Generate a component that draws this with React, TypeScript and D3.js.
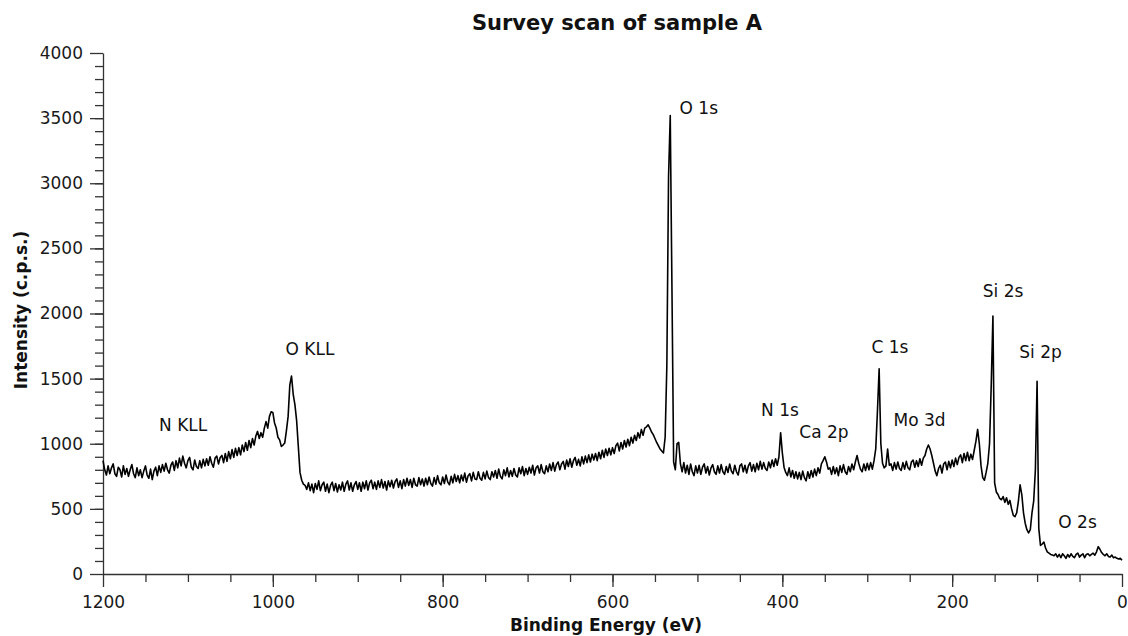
import * as d3 from 'd3';
import React, { useRef, useEffect } from 'react';

// binding energy grid of the scan: 1200 eV down to 0 eV, 2 eV per channel
const energyStart = 1200;
const energyStep = 2;

// intensity (c.p.s.), one value per channel
const intensity = [
  870, 800, 760, 830, 770, 815, 845, 770, 750, 820, // 1200
  800, 745, 830, 765, 810, 750, 800, 840, 770, 740, // 1180
  815, 755, 800, 740, 790, 830, 760, 735, 805, 725, // 1160
  790, 820, 755, 830, 780, 840, 790, 850, 800, 775, // 1140
  835, 860, 795, 870, 815, 890, 830, 905, 850, 815, // 1120
  870, 895, 820, 800, 875, 825, 810, 870, 815, 880, // 1100
  830, 885, 835, 900, 850, 820, 890, 905, 845, 895, // 1080
  910, 855, 925, 865, 940, 885, 955, 895, 965, 910, // 1060
  970, 915, 990, 940, 1010, 950, 1025, 970, 1040, 990, // 1040
  1060, 1095, 1040, 1085, 1050, 1120, 1170, 1120, 1210, 1245, // 1020
  1240, 1160, 1120, 1050, 1030, 980, 990, 1005, 1100, 1210, // 1000
  1450, 1520, 1380, 1300, 1180, 980, 780, 720, 690, 680, // 980
  650, 700, 640, 690, 625, 695, 650, 715, 640, 685, // 960
  705, 635, 690, 625, 680, 705, 640, 695, 630, 685, // 940
  645, 705, 635, 690, 715, 645, 700, 635, 685, 710, // 920
  650, 700, 635, 705, 655, 715, 645, 700, 720, 655, // 900
  705, 650, 715, 665, 725, 660, 710, 645, 715, 670, // 880
  720, 660, 710, 730, 665, 715, 655, 725, 675, 735, // 860
  680, 725, 665, 735, 685, 675, 740, 685, 730, 675, // 840
  735, 685, 745, 695, 675, 740, 690, 755, 700, 685, // 820
  745, 695, 760, 705, 685, 750, 700, 765, 710, 755, // 800
  700, 760, 715, 775, 705, 755, 770, 715, 780, 730, // 780
  725, 785, 735, 720, 780, 730, 790, 740, 725, 785, // 760
  745, 795, 735, 805, 750, 730, 800, 755, 815, 745, // 740
  795, 750, 810, 760, 745, 815, 770, 825, 755, 810, // 720
  765, 820, 775, 835, 760, 815, 830, 775, 840, 785, // 700
  770, 830, 785, 845, 795, 855, 790, 840, 860, 800, // 680
  845, 865, 805, 875, 825, 885, 820, 870, 895, 835, // 660
  880, 830, 900, 845, 905, 855, 915, 860, 920, 875, // 640
  925, 870, 935, 885, 950, 895, 960, 910, 965, 915, // 620
  970, 925, 985, 1005, 945, 1010, 960, 1025, 975, 1035, // 600
  985, 1050, 1005, 1065, 1025, 1085, 1045, 1110, 1065, 1120, // 580
  1130, 1145, 1120, 1090, 1070, 1040, 1010, 985, 960, 945, // 560
  930, 1050, 1600, 3050, 3520, 2200, 860, 800, 1000, 1010, // 540
  845, 785, 855, 775, 835, 765, 845, 785, 755, 830, // 520
  775, 835, 765, 820, 845, 775, 825, 760, 815, 840, // 500
  785, 765, 830, 775, 840, 785, 765, 825, 780, 845, // 480
  790, 770, 835, 785, 760, 830, 845, 785, 835, 775, // 460
  830, 855, 790, 840, 785, 850, 800, 865, 805, 855, // 440
  810, 795, 860, 815, 875, 825, 885, 835, 900, 1085, // 420
  930, 820, 780, 755, 815, 745, 795, 735, 785, 730, // 400
  780, 725, 790, 740, 715, 785, 735, 795, 745, 805, // 380
  755, 815, 775, 845, 870, 900, 860, 805, 815, 765, // 360
  825, 770, 815, 755, 830, 780, 840, 785, 765, 825, // 340
  785, 845, 800, 860, 910, 850, 805, 785, 845, 795, // 320
  850, 800, 855, 805, 870, 960, 1250, 1575, 1000, 850, // 300
  815, 830, 960, 835, 845, 795, 855, 805, 860, 810, // 280
  795, 855, 805, 865, 815, 800, 860, 875, 820, 870, // 260
  825, 885, 835, 890, 910, 960, 990, 960, 910, 850, // 240
  790, 755, 810, 835, 775, 845, 860, 800, 865, 815, // 220
  875, 825, 890, 840, 895, 915, 855, 925, 870, 935, // 200
  870, 920, 880, 950, 1020, 1110, 1000, 830, 740, 720, // 180
  780, 850, 1000, 1450, 1980, 700, 630, 610, 580, 570, // 160
  595, 550, 585, 535, 565, 500, 450, 440, 470, 560, // 140
  685, 610, 470, 390, 340, 315, 340, 470, 560, 800, // 120
  1480, 350, 220, 230, 245, 200, 170, 160, 150, 145, // 100
  140, 155, 130, 150, 125, 155, 140, 120, 150, 130, // 80
  155, 135, 125, 150, 160, 130, 145, 155, 125, 150, // 60
  155, 140, 150, 160, 145, 170, 210, 190, 165, 150, // 40
  140, 155, 135, 130, 145, 125, 130, 120, 115, 120, // 20
  105, // 0
];

// peak annotations: name, and where the text sits (eV, c.p.s.)
const peakNames = ['N KLL', 'O KLL', 'O 1s', 'N 1s', 'Ca 2p', 'C 1s', 'Mo 3d', 'Si 2s', 'Si 2p', 'O 2s'];
const peakLabelEnergy = [1134, 985, 521, 425, 380, 295, 269, 164, 121, 75];
const peakLabelIntensity = [1100, 1685, 3530, 1210, 1045, 1700, 1140, 2130, 1660, 355];

const xTicks = [1200, 1000, 800, 600, 400, 200, 0];
const yTicks = [0, 500, 1000, 1500, 2000, 2500, 3000, 3500, 4000];

const App = () => {
  const width = 1128;
  const height = 636;
  const gx = useRef(null);
  const gy = useRef(null);
  const gxMinor = useRef(null);
  const gyMinor = useRef(null);

  const x = d3.scaleLinear([1200, 0], [103, 1122]);
  const y = d3.scaleLinear([0, 4000], [574, 53]);

  const energy = intensity.map((_, i) => energyStart - i * energyStep);
  const line = d3.line<number>((d, i) => x(energy[i]), (d) => y(d));

  useEffect(() => {
    const axisColor = '#333';
    const fmt = (d) => String(d);

    // minor ticks first, then the labelled major ticks on top
    d3.select(gxMinor.current)
      .call(d3.axisBottom(x).tickValues(d3.range(1150, 0, -50)).tickSize(8).tickFormat(() => ''))
      .call((g) => g.select('.domain').remove());
    d3.select(gyMinor.current)
      .call(d3.axisLeft(y).tickValues(d3.range(100, 4000, 100)).tickSize(8).tickFormat(() => ''))
      .call((g) => g.select('.domain').remove());

    d3.select(gx.current)
      .call(d3.axisBottom(x).tickValues(xTicks).tickSize(13).tickSizeOuter(0).tickPadding(9).tickFormat(fmt));
    d3.select(gy.current)
      .call(d3.axisLeft(y).tickValues(yTicks).tickSize(13).tickSizeOuter(0).tickPadding(7).tickFormat(fmt));

    for (const ref of [gx, gy, gxMinor, gyMinor]) {
      const g = d3.select(ref.current);
      g.selectAll('line').attr('stroke', axisColor).attr('stroke-width', 1.3);
      g.selectAll('.domain').attr('stroke', axisColor).attr('stroke-width', 1.3);
      g.selectAll('text')
        .attr('fill', '#1a1a1a')
        .style('font-family', '"DejaVu Sans", sans-serif')
        .style('font-size', '17px');
    }
  }, []);

  return (
    <svg width={width} height={height} style={{ position: 'absolute', left: 0, top: 0 }}>
      <rect width={width} height={height} fill="white" />
      <text
        x={617}
        y={30}
        textAnchor="middle"
        fontFamily='"DejaVu Sans", sans-serif'
        fontWeight="bold"
        fontSize={21}
        fill="#111"
      >
        Survey scan of sample A
      </text>

      <g ref={gxMinor} transform="translate(0,574)" />
      <g ref={gyMinor} transform="translate(103,0)" />
      <g ref={gx} transform="translate(0,574)" />
      <g ref={gy} transform="translate(103,0)" />

      <path fill="none" stroke="#000" strokeWidth={1.6} strokeLinejoin="round" d={line(intensity)} />

      <g fontFamily='"DejaVu Sans", sans-serif' fontSize={17} fill="#111">
        {peakNames.map((name, i) => (
          <text key={name} x={x(peakLabelEnergy[i])} y={y(peakLabelIntensity[i])}>
            {name}
          </text>
        ))}
      </g>

      <text
        x={606}
        y={631}
        textAnchor="middle"
        fontFamily='"DejaVu Sans", sans-serif'
        fontWeight="bold"
        fontSize={17}
        fill="#111"
      >
        Binding Energy (eV)
      </text>
      <text
        transform="translate(27,310) rotate(-90)"
        textAnchor="middle"
        fontFamily='"DejaVu Sans", sans-serif'
        fontWeight="bold"
        fontSize={17}
        fill="#111"
      >
        Intensity (c.p.s.)
      </text>
    </svg>
  );
};

export default App;
